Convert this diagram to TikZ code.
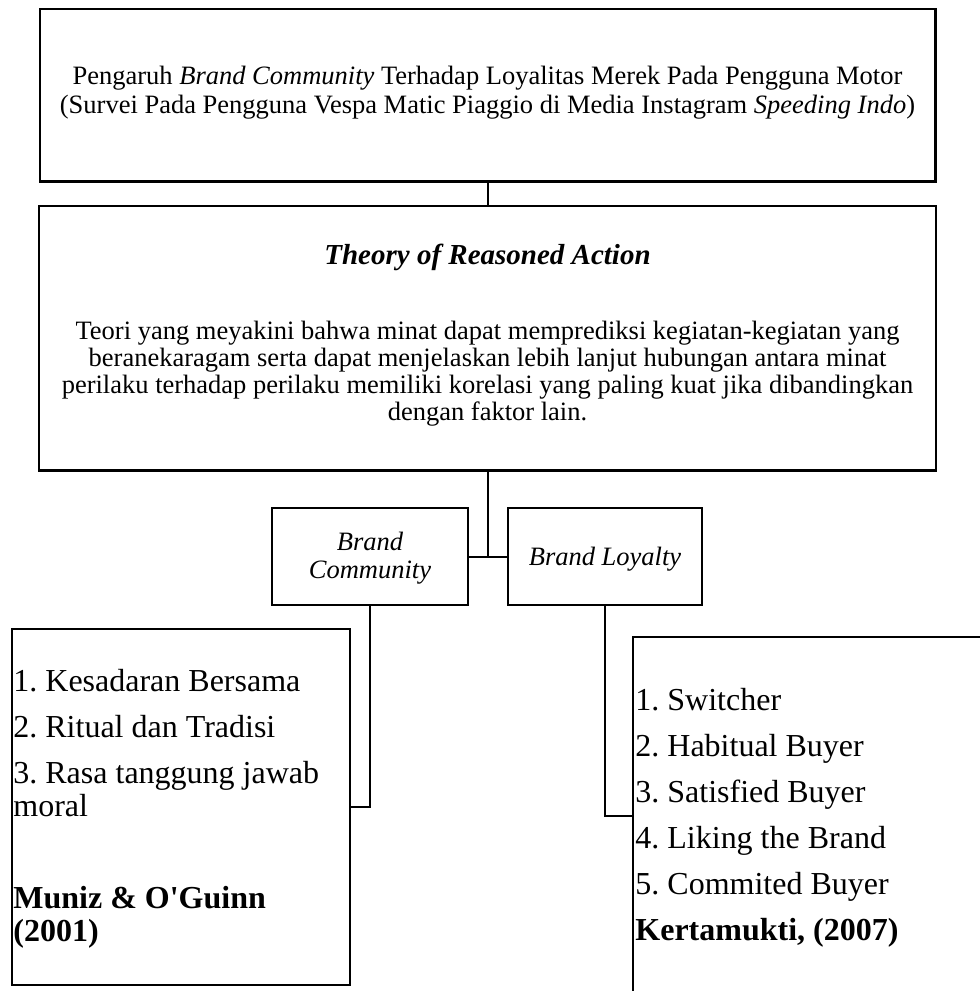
\documentclass[tikz,border=0pt]{standalone}
\usepackage{fontspec}
\setmainfont{Liberation Serif}[Ligatures=TeXOff]
\frenchspacing
\begin{document}
\frenchspacing
\begin{tikzpicture}[x=0.5pt,y=-0.5pt]
\tikzset{
  boxbig/.style={draw, line width=1.25pt, inner sep=0pt, outer sep=0pt},
  boxsmall/.style={draw, line width=1pt, inner sep=0pt, outer sep=0pt},
  link/.style={line width=1pt},
  mtext/.style={font=\fontsize{13.25}{13.5}\selectfont\frenchspacing, inner sep=0pt, anchor=base},
  ttl/.style={font=\fontsize{14.5}{15}\selectfont\bfseries\itshape, inner sep=0pt, anchor=base},
  ltext/.style={font=\fontsize{16}{18}\selectfont\frenchspacing, inner sep=0pt, anchor=base west},
}
\useasboundingbox (0,0) rectangle (980,991);
\clip (0,0) rectangle (980,991);
\fill[white] (0,0) rectangle (980,991);

% boxes
\node[boxbig, minimum width=447.75pt, minimum height=86.35pt] (top) at (487.75,95.35) {};
\node[boxbig, minimum width=448.5pt, minimum height=132.25pt] (tra) at (487.5,338.25) {};
\node[boxsmall, minimum width=97.7pt, minimum height=48.35pt] (bc) at (370,556.65) {};
\node[boxsmall, minimum width=97.3pt, minimum height=48.35pt] (bl) at (605,556.65) {};
\node[boxsmall, minimum width=168.85pt, minimum height=177.85pt] (lb) at (181.15,807.15) {};
\node[boxsmall, minimum width=178.35pt, minimum height=178.7pt] (rb) at (811.65,816) {};

% connectors
\draw[link] (top.south) -- (top.south |- tra.north);
\draw[link] (tra.south) -- (tra.south |- bc.east);
\draw[link] (bc.east) -- (bl.west);
\draw[link] (bc.south) |- (lb.east);
\draw[link] (bl.south) |- (rb.west);

% top box text
\node[mtext] (t1) at (487.5,84) {Pengaruh \textit{Brand Community} Terhadap Loyalitas Merek Pada Pengguna Motor};
\node[mtext] (t2) at (487.5,113.5) {(Survei Pada Pengguna Vespa Matic Piaggio di Media Instagram \textit{Speeding Indo})};

% TRA text
\node[ttl] (trat) at (487.5,264) {Theory of Reasoned Action};
\node[mtext] (p1) at (487.5,339) {Teori yang meyakini bahwa minat dapat memprediksi kegiatan-kegiatan yang};
\node[mtext] (p2) at (487.5,366.5) {beranekaragam serta dapat menjelaskan lebih lanjut hubungan antara minat};
\node[mtext] (p3) at (487.5,393.5) {perilaku terhadap perilaku memiliki korelasi yang paling kuat jika dibandingkan};
\node[mtext] (p4) at (487.5,420.5) {dengan faktor lain.};

% small boxes text
\node[mtext] (bc1) at (370,550) {\textit{Brand}};
\node[mtext] (bc2) at (370,578) {\textit{Community}};
\node[mtext] (bl1) at (605,565) {\textit{Brand Loyalty}};

% left list
\node[ltext] (l1) at (13,691.7) {1. Kesadaran Bersama};
\node[ltext] (l2) at (13,737.7) {2. Ritual dan Tradisi};
\node[ltext] (l3) at (13,783.3) {3. Rasa tanggung jawab};
\node[ltext] (l4) at (13,816.3) {moral};
\node[ltext] (l5) at (13,908.3) {\bfseries Muniz \& O'Guinn};
\node[ltext] (l6) at (13,941.3) {\bfseries (2001)};

% right list
\node[ltext] (r1) at (635,710) {1. Switcher};
\node[ltext] (r2) at (635,756.5) {2. Habitual Buyer};
\node[ltext] (r3) at (635,802.5) {3. Satisfied Buyer};
\node[ltext] (r4) at (635,848.5) {4. Liking the Brand};
\node[ltext] (r5) at (635,894) {5. Commited Buyer};
\node[ltext] (r6) at (635,940) {\bfseries Kertamukti, (2007)};
\end{tikzpicture}
\end{document}
